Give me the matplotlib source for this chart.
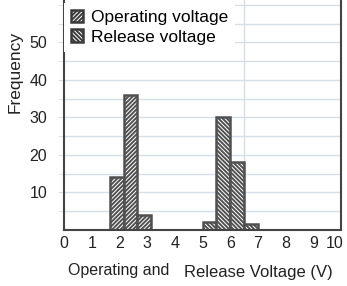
import matplotlib
matplotlib.use("Agg")
import matplotlib.pyplot as plt
from matplotlib.patches import Patch
from matplotlib.transforms import ScaledTranslation

plt.rcParams['font.family'] = ['Liberation Sans', 'DejaVu Sans']
plt.rcParams['hatch.linewidth'] = 1.4
plt.rcParams['hatch.color'] = '#111111'

op_centers = [1.9, 2.4, 2.9]
op_counts = [14, 36, 4]
rel_centers = [5.25, 5.75, 6.25, 6.75]
rel_counts = [2, 30, 18, 1.7]
bin_width = 0.5
x_ticks = [0, 1, 2, 3, 4, 5, 6, 7, 8, 9, 10]
y_ticks = [10, 20, 30, 40, 50]

fig = plt.figure(figsize=(3.47, 2.86), dpi=100)
ax = fig.add_axes([64/347, 56/286, (341-64)/347, 230/286])

grid_c = '#d6dee8'
edge_c = '#505050'
text_c = '#222222'
for y in range(5, 61, 5):
    ax.axhline(y, color=grid_c, lw=1.0, zorder=0)
ax.axvline(6.5, color=grid_c, lw=1.0, zorder=0)

hatch_op = '/' * 8
hatch_rel = '\\' * 8
ax.bar(op_centers, op_counts, width=bin_width, color='white', edgecolor=edge_c,
       hatch=hatch_op, linewidth=1.8, zorder=2)
ax.bar(rel_centers, rel_counts, width=bin_width, color='white', edgecolor=edge_c,
       hatch=hatch_rel, linewidth=1.8, zorder=2)

ax.set_xlim(0, 10)
ax.set_ylim(0, 61.3)
ax.set_xticks(x_ticks)
ax.set_xticklabels([str(v) for v in x_ticks], fontsize=11.5, color=text_c)
ax.set_yticks(y_ticks)
ax.set_yticklabels([str(v) for v in y_ticks], fontsize=11.5, color=text_c)
ax.set_yticks(list(range(5, 61, 5)), minor=True)
ax.tick_params(axis='y', which='both', length=4, color=grid_c, pad=8)
ax.tick_params(axis='x', length=0, pad=4)
last = ax.get_xticklabels()[-1]
last.set_transform(last.get_transform() + ScaledTranslation(-6/100, 0, fig.dpi_scale_trans))

ax.spines['top'].set_visible(False)
for s in ['left', 'right', 'bottom']:
    ax.spines[s].set_color('#444444')
    ax.spines[s].set_linewidth(1.5)

ax.set_ylabel('Frequency', fontsize=12.5, color=text_c)
ax.yaxis.set_label_coords(-0.150, 0.687)

fig.text(68/347, 1 - 271/286, 'Operating and', fontsize=11.5, color=text_c, va='center', ha='left')
fig.text(184/347, 1 - 273/286, 'Release Voltage (V)', fontsize=12, color=text_c, va='center', ha='left')

handles = [Patch(facecolor='white', edgecolor='#3a3a3a', hatch='/' * 8, linewidth=1.8, label='Operating voltage'),
           Patch(facecolor='white', edgecolor='#3a3a3a', hatch='\\' * 8, linewidth=1.8, label='Release voltage')]
leg = ax.legend(handles=handles, loc='upper left', bbox_to_anchor=(0.0, 0.987), frameon=True,
                fontsize=12.5, handlelength=0.7, handleheight=0.7, handletextpad=0.45,
                borderaxespad=0.0, labelspacing=0.25, borderpad=0.4, fancybox=False)
leg.get_frame().set_edgecolor('none')
leg.get_frame().set_facecolor('white')
leg.get_frame().set_alpha(1.0)

fig.savefig('out.png', dpi=100)
